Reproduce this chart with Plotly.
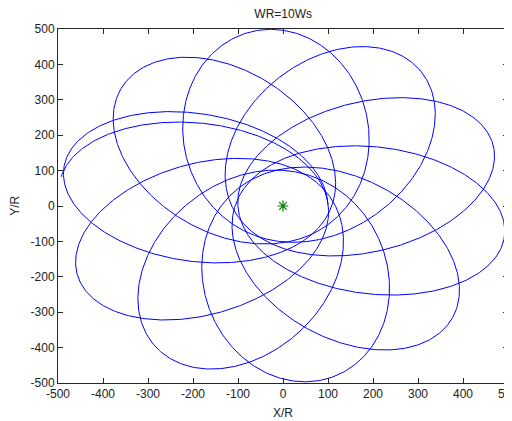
import numpy as np
import plotly.graph_objects as go

# ---- values ----
title_text = "WR=10Ws"
x_label = "X/R"
y_label = "Y/R"
tick_vals = [-500, -400, -300, -200, -100, 0, 100, 200, 300, 400, 500]
tick_text = ["-500", "-400", "-300", "-200", "-100", "0", "100", "200", "300", "400", "500"]

periapsis_radius = [100.0]          # inner envelope radius
apoapsis_radius = [500.0]           # outer lobe radius
radial_cycles = [10.5]              # periapsis start .. final apoapsis
regression_per_orbit_deg = [35.3]   # apse line turn per orbit
final_apoapsis_angle_deg = [172.0]  # direction of the last lobe
end_angle_deg = [170.5]             # where the trajectory stops
centre_x = [0.0]
centre_y = [0.0]

# ---- precessing conic r = p / (1 - e cos(k (theta - theta_apo))) ----
rp, ra = periapsis_radius[0], apoapsis_radius[0]
e = (ra - rp) / (ra + rp)
p = ra * (1 - e)
k = 360.0 / (360.0 - regression_per_orbit_deg[0])
th_apo = np.deg2rad(final_apoapsis_angle_deg[0])
th_end = np.deg2rad(end_angle_deg[0])
th_start = th_apo - radial_cycles[0] * 2 * np.pi / k
theta = np.linspace(th_start, th_end, 8000)
r = p / (1 - e * np.cos(k * (theta - th_apo)))
xs = r * np.cos(theta)
ys = r * np.sin(theta)

font = dict(family="Arial, Liberation Sans, sans-serif", size=12, color="#222222")

fig = go.Figure()
fig.add_trace(go.Scatter(x=xs, y=ys, mode="lines",
                         line=dict(color="rgb(0,0,255)", width=1), hoverinfo="skip"))
fig.add_trace(go.Scatter(x=centre_x, y=centre_y, mode="markers",
                         marker=dict(symbol="asterisk-open", size=9, color="rgb(0,128,0)",
                                     line=dict(color="rgb(0,128,0)", width=1.2)),
                         hoverinfo="skip"))

axis_common = dict(
    showgrid=False, zeroline=False, showline=True, mirror="ticks",
    linecolor="#262626", linewidth=1, ticks="inside", ticklen=5,
    tickcolor="#262626", tickvals=tick_vals, ticktext=tick_text,
    tickfont=font, ticklabeloverflow="allow",
)
fig.update_xaxes(range=[-500, 500], title=dict(text=x_label, font=font, standoff=8),
                 **axis_common)
fig.update_yaxes(range=[-500, 500], **axis_common)

# page body adds an 8px offset, so the figure is 8px smaller than the window
fig.update_layout(
    width=504, height=413,
    margin=dict(l=50, r=4, t=21, b=38, autoexpand=False),
    paper_bgcolor="white", plot_bgcolor="white",
    showlegend=False,
    title=dict(text=title_text, font=font, x=0.546, xanchor="center",
               y=1 - 6 / 413, yanchor="middle", yref="container"),
    annotations=[dict(text=y_label, xref="paper", yref="paper", x=-0.096, y=0.5,
                      xanchor="center", yanchor="middle", textangle=-90,
                      showarrow=False, font=font)],
)
fig.write_html("out.html")
